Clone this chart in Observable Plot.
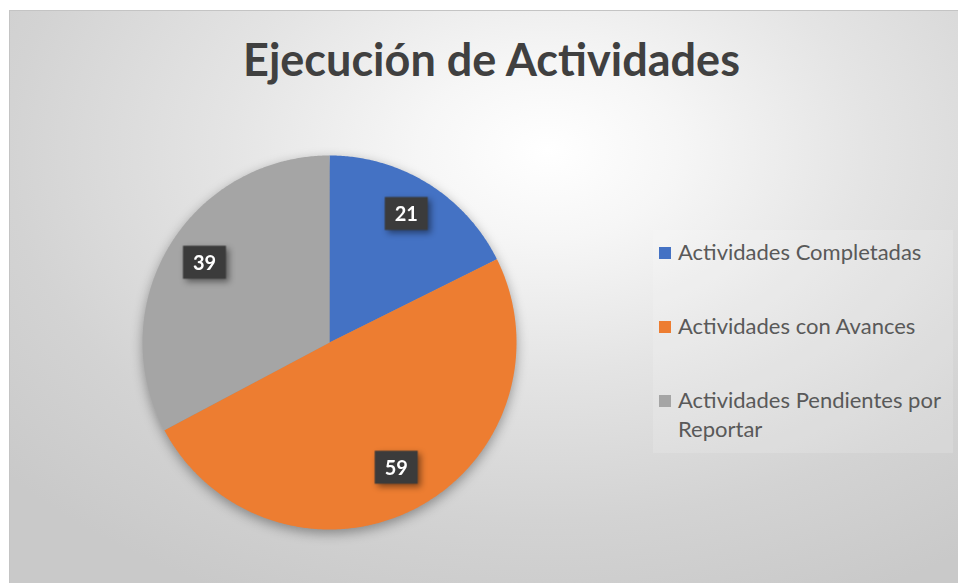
<!DOCTYPE html>
<html>
<head>
<meta charset="utf-8">
<script src="https://cdn.jsdelivr.net/npm/d3@7"></script>
<script src="https://cdn.jsdelivr.net/npm/@observablehq/plot@0.6"></script>
<style>
  html, body { margin: 0; padding: 0; background: #ffffff; }
  body { width: 958px; height: 583px; position: relative; overflow: hidden; font-family: Lato, "Open Sans", sans-serif; }
  #frame {
    position: absolute; left: 9px; top: 10px; width: 960px; height: 580px;
    border-top: 1px solid #c4c4c4; border-left: 1px solid #c4c4c4;
    background: radial-gradient(ellipse 75% 85% at 56% 24%, #ffffff 0%, #f6f6f6 18%, #e4e4e4 45%, #d3d3d3 75%, #c9c9c9 100%);
  }
  #title {
    position: absolute; left: 0; width: 983px; top: 37px; text-align: center;
    font-family: Lato, sans-serif; font-weight: 700; font-size: 45px; line-height: 45px; color: #404040;
  }
  #chart { position: absolute; left: 129px; top: 142px; }
  #legend-bg { position: absolute; left: 653px; top: 230px; width: 300px; height: 223px; background: rgba(255,255,255,0.15); }
  .item { position: absolute; left: 659px; display: flex; align-items: flex-start; }
  .sw { width: 12px; height: 12px; margin-top: 5px; margin-right: 7px; flex: none; }
  .lab { width: 275px; font-family: Lato, sans-serif; font-size: 22px; line-height: 29px; color: #595959; margin-top: -5px; }
</style>
</head>
<body>
<div id="frame"></div>
<div id="title"></div>
<div id="chart"></div>
<div id="legend-bg"></div>
<div id="legend"></div>
<script>
// ---- data ----
const categories = ["Actividades Completadas", "Actividades con Avances", "Actividades Pendientes por Reportar"];
const values = [21, 59, 39];
const colors = ["#4472C4", "#ED7D31", "#A5A5A5"];
const title = "Ejecución de Actividades";

document.getElementById("title").textContent = title;

const rows = categories.map((c, i) => ({category: c, value: values[i]}));
const arcs = d3.pie().sort(null).value(d => d.value)(rows);

// slice outlines in unit-circle coordinates (angle 0 at 12 o'clock, clockwise)
const outline = [];
for (const a of arcs) {
  outline.push({category: a.data.category, x: 0, y: 0});
  const n = Math.max(2, Math.ceil((a.endAngle - a.startAngle) / (Math.PI / 360)));
  for (let k = 0; k <= n; k++) {
    const t = a.startAngle + (a.endAngle - a.startAngle) * k / n;
    outline.push({category: a.data.category, x: Math.sin(t), y: Math.cos(t)});
  }
}
const labelR = 0.78;
const labels = arcs.map(a => {
  const m = (a.startAngle + a.endAngle) / 2;
  return {category: a.data.category, value: a.data.value, x: labelR * Math.sin(m), y: labelR * Math.cos(m)};
});

const D = 200 / 187;
const boxSymbol = {draw(ctx) { ctx.moveTo(-21.5, -16.5); ctx.lineTo(21.5, -16.5); ctx.lineTo(21.5, 16.5); ctx.lineTo(-21.5, 16.5); ctx.closePath(); }};

const plot = Plot.plot({
  width: 400, height: 400, margin: 0,
  style: {background: "transparent", overflow: "visible"},
  x: {domain: [-D, D], axis: null},
  y: {domain: [-D, D], axis: null},
  color: {domain: categories, range: colors},
  marks: [
    Plot.line(outline, {x: "x", y: "y", z: "category", fill: "category", stroke: "none", curve: "linear-closed"}),
    Plot.dot(labels, {x: "x", y: "y", symbol: boxSymbol, r: 5, fill: "#3b3b3b", stroke: "none", dy: -5}),
    Plot.text(labels, {x: "x", y: "y", text: d => String(d.value), fill: "white", fontWeight: "bold", fontSize: 20, fontFamily: "Lato, sans-serif", dy: -4})
  ]
});
document.getElementById("chart").appendChild(plot);
d3.select(plot).selectAll('g[aria-label="line"]').style("filter", "drop-shadow(0px 4px 6px rgba(0,0,0,0.35))");
d3.select(plot).selectAll('g[aria-label="dot"]').style("filter", "drop-shadow(3px 3px 3px rgba(0,0,0,0.45))");

// ---- legend ----
const legendTops = [242, 316, 390];
const legend = document.getElementById("legend");
categories.forEach((c, i) => {
  const it = document.createElement("div");
  it.className = "item";
  it.style.top = legendTops[i] + "px";
  const sw = document.createElement("div");
  sw.className = "sw"; sw.style.background = colors[i];
  const lab = document.createElement("div");
  lab.className = "lab"; lab.textContent = c;
  it.appendChild(sw); it.appendChild(lab);
  legend.appendChild(it);
});
</script>
</body>
</html>
